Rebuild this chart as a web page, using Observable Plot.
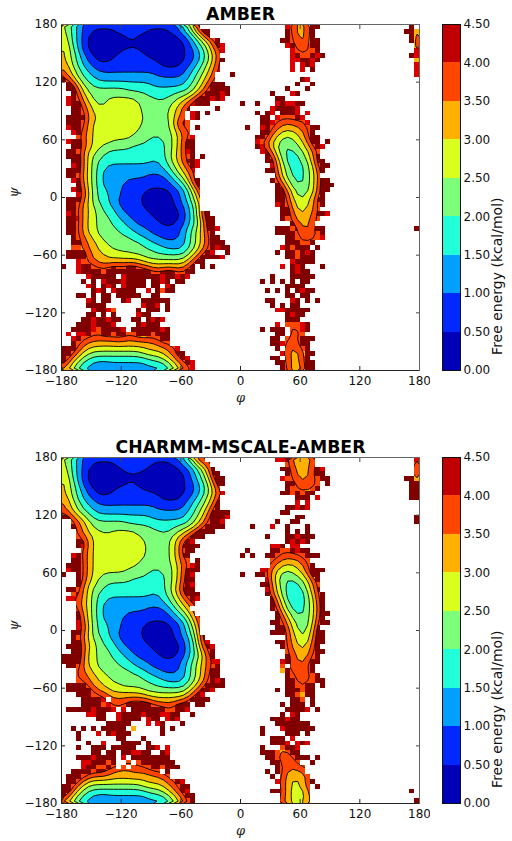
<!DOCTYPE html>
<html><head><meta charset="utf-8">
<script src="https://cdn.jsdelivr.net/npm/d3@7"></script>
<script src="https://cdn.jsdelivr.net/npm/@observablehq/plot@0.6"></script>
<style>html,body{margin:0;background:#fff}#c{position:relative;width:512px;height:841px;overflow:hidden}#c svg{position:absolute;background:transparent}</style>
</head><body><div id="c"></div>
<script>
// Free-energy band per 5-degree bin: 0..7 = band index (0.5 kcal/mol each), 9 = 4.0-4.5, 8 = above 4.5, "." = unsampled
const amberLeft = [
"5432111111111111111111123468","543211000001111110000011234688","643210000000011000000000123568","64321000000000100000000001234578",
"653210000000000000000000012345789","654210000000111100000000011234679","65432100000111111000000001123467","654321100011111111100000011234578",
"75432211111111111111000011234569","76543221111111111111111112334579","7654332222222222222111111234567...8","8754433222222222222222222334567",
".88544333333333333222222234567888",".886544444444333333333333345678888","..87644444444444433333344456788898",".98765444555555444433445567888989",
".98866544555555544444455679888","..887654555555554444445678.....8","..88766555555555444445567.98.8",".888866555555555544444567.98",
".8887655555555554444445887",".9887655555555554444445687.8","..987655555555544444444677","...766555555554444334445779",
".98876555544444443333456788","..8876554444443333333445788",".88765544333333333333456798",".88865443333333333333456778.8",
"..88654333333333332234567889","..98654332222222222233456789",".88865432222222222222345669",".88765432222222221111234567",
"..98654322222111111111234588","...8654322221111111111223468","..98754332221111100000112357","...9854333221111000000012347",
".888654332211111000000112347",".887654433211111000000012235",".887665433321111100000001235",".98765544332211111000000123588",
".889655444332211111000001234688",".887655444333221111100011234588",".8876554444333222111111123456889",".887655444443332221111112345678",
"..877655444444333222111123456788","..8877655444444433322222234567888","..77666555444444433332222345678988",".888876655554544444333333456789..8",
".88886666555555544444444456788889","...97776666766666555555556788","8..988777787788777666666678.8.8","...988887888888888778887788",
".....988888.98888888988989","....8.8.988898888.8898.88",".....98.898.98888.88.98","......898.98888..9.8788",
"...88.8.88.88888..88",".....98.88..89..888888",".....8888.......9889.8","......98897....8.888.8",
".....88.8.8....988","....88988988..88.8989","...88898889....89888","..88889788889.88888898",
".9.9987788788778887888","..98777766777677677788","..87766666666666666777","888765555555555556666779",
"8876554444444444555556788","87654333333333333444566789","865433222222222222333456789","654322211222222222222345679"];
const amberRight = [
".........9766688",".........876668",".........876668","........88766688",".........9877788","..........977778","..........9877898","..........998898",
"..........9.989","..........9.9.8","","............89","...........8..8",".........8...8","......8...98",".......88",
"8..8...989988","......988889","...8.89.8889.9","....88.977789","....8897767779",".8..987766667788","....88665556678","...8876544456788",
"...9765544455688.8","...89654334456789","....986533344567",".....87543334568",".....886432344588","......965423345788",".....886543334568",".......754333456",
"......876443345688",".......875433456888",".......88654445688",".......8875445568",".......8876445688",".......9876555678","........88655667","........8875566889",
"........87766677","..........86667",".......8887866788",".......8888766778",".........88777779",".........888778","........987888.8",".......8.887898",
".........887888","..........98888","........9.898...8","..........8988","......8...88888","....8.8.8.8.88",".........8888",".....8.8.8.8988",
".........88.88",".....88...98.8.8","......8.8.88",".......9988888",".........8988",".........888",".......9.77798","....8.888.7798",
".......88.777","......88.777888","......88977788",".......8.66678","........9666688","......88.76678",".......88666688","........8765688"];
const amberWrap = [[0,".8."],[1,"886"],[2,".86"],[3,".86"],[4,"..6"],[5,"..9"],[6,".89"],[7,"..6"],[8,"..9"],[9,"..9"],[10,"..9"],[42,"..8"]];

const charmmLeft = [
"54321111111111111111111234588","543211000001111111000001123467","6432100000001111100000001123568","64321000000000100000000001234588",
"653210000000000000000000012345788","654210000000011000000000011234688","65432100000111110000000001123467","654321100011111111100000011234579",
"75432211111111111111000011234569","76543221111111111111111112334568","76543322222222222221111112345678","7654433222222222222222222334568888",
"8876543333333333332222222345678889","..7765444444433333333333334567889","..8765444444444444333334445678888","...7655544555554444433445678888",
"...77655555555554444445677888","...886555555555554444456789","...8965555555555544444568888","....76555555555554444456788",
"..987655565555555444445688","..887655555555554444445677.8",".888765555555554444444467798",".988765555555444443344457888",
"8..876554444444443333456789","...876544444443333333445788","...865544333333333333456789",".88765443333333333333456888",
"..78654333333333332234567888",".997654332222222222233456789","...765432222222222222345669","...76543222222222111123456",
"...865432222211111111123457","...8654322221111111111223469","...9754332221111100000112357","...9854333221111000000012347",
"..88654332211111000000112347","..876544332111110000000122358","..8866543332111110000000123589",".888755443322111110000001235789",
"..88655444332211111000001234678","8888655444333221111100011234578","88886554444333222111111123456799",".8876554444433322211111123456778",
"...77655444444333222111123456788","...77765544444443332222223456788","...776656544444443333222234567898",".88887665555444444433333345678888",
".888887665555555444444444567889","...88877866666666555555556789","....88889.77777777666666678888","....8888797778888877777888.88",
".8888898889.9.888888877889",".....9988..9888898889988..8",".......88..98888.988.989",".........88888...9.98...8",
"..8.8.8.88888.6.....8.8","...8...9.89888......8","...8.......88...8",".....8..9...8888.8",
"...8..888.88888..889.9","......88.88.889988..89","...88898888.9.88888888","....9988878..7.78888888",
"....9887787.7.7777887888","..888878876666776777.8",".888776666666666666677",".887655555555555566667789",
"88765444444444445555567788","88654333333333333444566789","865433222222222222333456788","654322211222222222222345678"];
const charmmRight = [
".......99865567",".........766667","........887666789",".........87656788","........9777677788",".........8877677.8",".........8777678","........8878788",
"...........888.9","...........9.9",".........88989","........88","...........88",".......8..88","..8...9..8...8",".........8.8.8",
".....8...889888",".........89898","......998.99",".8....88778988","8.8..88777777888","......77666677","......766556678","....9965445567888",
"8..8876544455688",".....95433344568","....887543334567",".....96543233568",".....865432234578","......86532234578","......86543234568","......87543334568",
".......86543345688",".......8764434578","......887654445788",".......887544458","......88876444588",".........76545688",".......8876555688","........87755668",
".........77656788",".........8766678","........98766788","........7.77678","........6877778",".........8776778",".........88767788",".........887788.8",
".......8.888788",".........887688","..........887.8","........8.888.8",".........88889.8","........8.98","......888988",".......8888888",
"....8...9888888","....8....888.8","......888.9","......8889.989","....8...7889","....88876788",".....887657888.8","......887677..8",
".......877777",".....8.876667","......8.765566",".......97655678","........765567.8","......88765456","........765456","........765566"];
const charmmWrap = [[0,"..9"],[1,"..7"],[2,"..6"],[3,"..6"],[4,"886"],[5,".88"],[6,".88"],[7,".88"],[8,".88"],[12,"..8"],[13,"..8"],[69,".8."],[71,"..8"]];

const bandColors = ["#0000b8","#0028ff","#00a0ff","#20ffd8","#7dff7a","#d8ff20","#ffb000","#ff4600","#800000","#dc0000"];
const barColors  = ["#0000b8","#0028ff","#00a0ff","#20ffd8","#7dff7a","#d8ff20","#ffb000","#ff4600","#c00000"];
const levels = [0,0.5,1,1.5,2,2.5,3,3.5,4];
const barTicks = [0,0.5,1,1.5,2,2.5,3,3.5,4,4.5];
const angleTicks = [-180,-120,-60,0,60,120,180];
const titles = ["AMBER","CHARMM-MSCALE-AMBER"];
const barLabel = "Free energy (kcal/mol)";
const FONT = "'DejaVu Sans'";
const fmt = d => String(d).replace("-","\u2212");

function buildCells(left,right,wrap){
  const w = new Map(wrap), cells=[];
  for(let r=0;r<72;r++){
    const s = left[r].padEnd(36,".").slice(0,36)+right[r].padEnd(33,".").slice(0,33)+(w.get(r)||"...");
    for(let c=0;c<72;c++){ const ch=s[c]; cells.push({r,c,band:ch==="."?null:+ch}); }
  }
  return cells;
}
const bandValue = b => b===null?null:(b===8?4.9:b===9?4.25:(b+.5)*.5);
function field(cells){
  return cells.map(d=>{
    if(d.band!==null) return bandValue(d.band);
    let s=0,n=0;
    for(let i=-1;i<=1;i++)for(let j=-1;j<=1;j++){
      const R=d.r+i,C=d.c+j; if(R<0||R>71||C<0||C>71) continue;
      const b=cells[R*72+C].band; if(b!==null){s+=bandValue(b);n++;}
    }
    return n?s/n:5;
  });
}
const root=document.getElementById("c");
function panel(left,right,wrap,title,top){
  const cells=buildCells(left,right,wrap), vals=field(cells);
  const phi=d=>-180+5*d.c, psi=d=>180-5*d.r;
  const rect=(data,fill)=>Plot.rect(data,{x1:phi,x2:d=>phi(d)+5,y1:psi,y2:d=>psi(d)-5,fill,shapeRendering:"crispEdges"});
  const tickX=(anchor,stroke,dy)=>Plot.axisX(angleTicks,{anchor,tickSize:4,dy,fill:"none",label:null,stroke});
  const tickY=(anchor,stroke,dx)=>Plot.axisY(angleTicks,{anchor,tickSize:4,dx,fill:"none",label:null,stroke});
  const marks=[
    rect(cells.filter(d=>d.band!==null),d=>bandColors[d.band]),
    ...levels.slice(1).reverse().map(t=>Plot.contour(vals,{width:72,height:72,x1:-180,x2:180,y1:180,y2:-180,
      value:d=>-d,thresholds:[-t],fill:bandColors[levels.indexOf(t)-1],stroke:"black",strokeWidth:0.9,blur:0.3})),
    rect(cells.filter(d=>d.band===null),"white"),
    Plot.axisX(angleTicks,{anchor:"bottom",tickSize:0,tickPadding:6,tickFormat:fmt,fontSize:12,label:null,fill:"#111"}),
    Plot.axisY(angleTicks,{anchor:"left",tickSize:0,tickPadding:4,tickFormat:fmt,fontSize:12,label:null,fill:"#111"}),
    tickX("bottom","#222",-4),tickX("top","#444",4),tickY("left","#222",4),tickY("right","#444",-4),
    Plot.frame({anchor:"left",stroke:"#222"}),Plot.frame({anchor:"bottom",stroke:"#222"}),
    Plot.frame({anchor:"top",stroke:"#666"}),Plot.frame({anchor:"right",stroke:"#666"}),
    Plot.text([title],{frameAnchor:"top",lineAnchor:"bottom",dy:-5,fontSize:17.3,fontWeight:"bold",fill:"black"}),
    Plot.text(["\u03c6"],{frameAnchor:"bottom",lineAnchor:"middle",dy:27,fontSize:13,fontStyle:"italic",fontFamily:"'DejaVu Serif'",fill:"#222"}),
    Plot.text(["\u03c8"],{frameAnchor:"left",dx:-48,rotate:-90,fontSize:13,fontStyle:"italic",fontFamily:"'DejaVu Serif'",fill:"#222"})
  ];
  const svg=Plot.plot({width:430,height:346+24+42,marginTop:24,marginBottom:42,marginLeft:61,marginRight:11,
    x:{domain:[-180,180],axis:null},y:{domain:[-180,180],axis:null},
    style:{fontFamily:FONT,background:"transparent"},marks});
  svg.style.left="0px";svg.style.top=top+"px";root.appendChild(svg);
  const bar=Plot.plot({width:82,height:346+24+10,marginTop:24,marginBottom:10,marginLeft:12,marginRight:52,
    x:{domain:[0,1],axis:null},y:{domain:[0,4.5],axis:null},style:{fontFamily:FONT,background:"transparent"},
    marks:[
      Plot.rect(levels,{x1:0,x2:1,y1:d=>d,y2:d=>d+.5,fill:(d,i)=>barColors[i],shapeRendering:"crispEdges"}),
      Plot.axisY(barTicks,{anchor:"right",tickSize:0,tickPadding:3,tickFormat:d=>d.toFixed(2),fontSize:12,label:null,fill:"#111"}),
      Plot.frame({stroke:"#111"}),
      Plot.text([barLabel],{frameAnchor:"right",dx:37,rotate:-90,fontSize:14,fill:"#111"})
    ]});
  bar.style.left="430px";bar.style.top=top+"px";root.appendChild(bar);
}
panel(amberLeft,amberRight,amberWrap,titles[0],0);
panel(charmmLeft,charmmRight,charmmWrap,titles[1],433);
</script></body></html>
